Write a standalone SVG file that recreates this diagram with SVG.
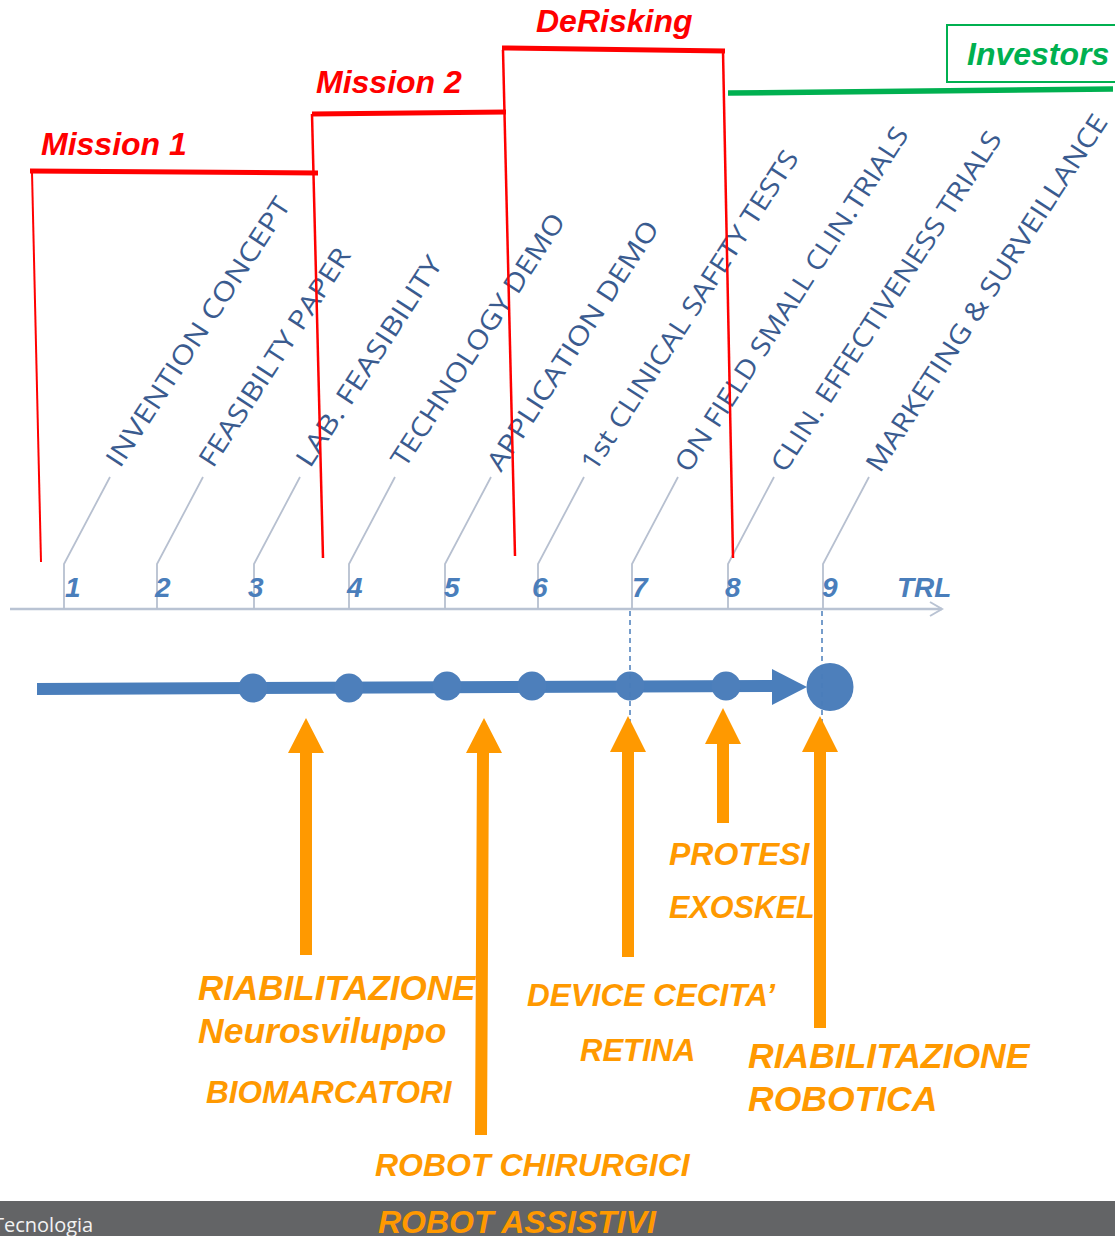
<svg xmlns="http://www.w3.org/2000/svg" width="1115" height="1236" viewBox="0 0 1115 1236">
<style>
.stage{font-family:"Open Sans","Noto Sans",sans-serif;font-size:26.5px;fill:#3a5b8f}
.tick{fill:none;stroke:#b7c0d0;stroke-width:1.8}
.num{font-family:"Liberation Sans",Arial,sans-serif;font-weight:bold;font-style:italic;font-size:28px;fill:#4a7ebb}
.red{font-family:"Liberation Sans",Arial,sans-serif;font-weight:bold;font-style:italic;font-size:32px;fill:#ff0000}
.grn{font-family:"Liberation Sans",Arial,sans-serif;font-weight:bold;font-style:italic;font-size:32px;fill:#00b050}
.org{font-family:"Liberation Sans",Arial,sans-serif;font-weight:bold;font-style:italic;fill:#ff9900}
.rline{stroke:#ff0000;fill:none}
.dot{fill:#4d7fbb}
.oarrow{fill:#ff9900}
.dash{stroke:#4a7ebb;stroke-width:1.5;stroke-dasharray:5 4;fill:none}
</style>

<!-- footer bar -->
<rect x="0" y="1201" width="1115" height="35" fill="#636466"/>
<text x="-7" y="1232" font-family="'Open Sans','Noto Sans',sans-serif" font-size="20" fill="#f2f2f2">Tecnologia</text>

<!-- TRL axis -->
<g id="axis">
  <line x1="10" y1="609" x2="942" y2="609" stroke="#b9c3d3" stroke-width="2.5"/>
  <polyline points="930,602 942,609 930,616" fill="none" stroke="#b9c3d3" stroke-width="2"/>
  <text class="num" x="897" y="597">TRL</text>
</g>

<!-- stages -->
<g id="stage1"><polyline class="tick" points="64,609 64,564 110,477"/><text class="num" x="65" y="597">1</text>
  <text class="stage" transform="translate(120,469) rotate(-57)" textLength="315" lengthAdjust="spacingAndGlyphs">INVENTION CONCEPT</text></g>
<g id="stage2"><polyline class="tick" points="157,609 157,564 203,477"/><text class="num" x="155" y="597">2</text>
  <text class="stage" transform="translate(213,469) rotate(-57)" textLength="255" lengthAdjust="spacingAndGlyphs">FEASIBILTY PAPER</text></g>
<g id="stage3"><polyline class="tick" points="254,609 254,564 300,477"/><text class="num" x="248" y="597">3</text>
  <text class="stage" transform="translate(310,469) rotate(-57)" textLength="245" lengthAdjust="spacingAndGlyphs">LAB. FEASIBILITY</text></g>
<g id="stage4"><polyline class="tick" points="349,609 349,564 395,477"/><text class="num" x="347" y="597">4</text>
  <text class="stage" transform="translate(405,469) rotate(-57)" textLength="296" lengthAdjust="spacingAndGlyphs">TECHNOLOGY DEMO</text></g>
<g id="stage5"><polyline class="tick" points="445,609 445,564 491,477"/><text class="num" x="444" y="597">5</text>
  <text class="stage" transform="translate(501,473) rotate(-57)" textLength="292" lengthAdjust="spacingAndGlyphs">APPLICATION DEMO</text></g>
<g id="stage6"><polyline class="tick" points="538,609 538,564 584,477"/><text class="num" x="532" y="597">6</text>
  <text class="stage" transform="translate(595,473) rotate(-57)" textLength="376" lengthAdjust="spacingAndGlyphs">1st CLINICAL SAFETY TESTS</text></g>
<g id="stage7"><polyline class="tick" points="632,609 632,564 678,477"/><text class="num" x="632" y="597">7</text>
  <text class="stage" transform="translate(689,474) rotate(-57)" textLength="405" lengthAdjust="spacingAndGlyphs">ON FIELD SMALL CLIN.TRIALS</text></g>
<g id="stage8"><polyline class="tick" points="728,609 728,564 774,477"/><text class="num" x="725" y="597">8</text>
  <text class="stage" transform="translate(785,474) rotate(-57)" textLength="400" lengthAdjust="spacingAndGlyphs">CLIN. EFFECTIVENESS TRIALS</text></g>
<g id="stage9"><polyline class="tick" points="823,609 823,564 869,477"/><text class="num" x="822" y="597">9</text>
  <text class="stage" transform="translate(880,474) rotate(-57)" textLength="420" lengthAdjust="spacingAndGlyphs">MARKETING &amp; SURVEILLANCE</text></g>

<!-- phases -->
<g id="mission1">
  <line class="rline" x1="30" y1="171" x2="318" y2="173" stroke-width="5"/>
  <line class="rline" x1="32" y1="172" x2="41" y2="562" stroke-width="2"/>
  <text class="red" x="41" y="155">Mission 1</text>
</g>
<g id="mission2">
  <line class="rline" x1="312" y1="114" x2="506" y2="112" stroke-width="5"/>
  <line class="rline" x1="312" y1="114" x2="323" y2="558" stroke-width="2.5"/>
  <text class="red" x="316" y="93">Mission 2</text>
</g>
<g id="derisking">
  <line class="rline" x1="502" y1="48" x2="725" y2="51" stroke-width="5"/>
  <line class="rline" x1="503" y1="50" x2="515" y2="556" stroke-width="2.5"/>
  <line class="rline" x1="723" y1="51" x2="733" y2="558" stroke-width="2.5"/>
  <text class="red" x="536" y="32">DeRisking</text>
</g>
<g id="investors">
  <rect x="947" y="25" width="175" height="57" fill="none" stroke="#00b050" stroke-width="2"/>
  <line x1="728" y1="93" x2="1113" y2="89" stroke="#00b050" stroke-width="5.5"/>
  <text class="grn" x="967" y="65">Investors</text>
</g>

<!-- timeline -->
<g id="timeline">
  <line x1="37" y1="689" x2="776" y2="686" stroke="#4a7ebb" stroke-width="12"/>
  <polygon points="772,669 807,687 772,705" fill="#4a7ebb"/>
  <circle class="dot" cx="253" cy="688" r="14.5"/>
  <circle class="dot" cx="349" cy="688" r="14.5"/>
  <circle class="dot" cx="447" cy="686" r="14.5"/>
  <circle class="dot" cx="532" cy="686" r="14.5"/>
  <circle class="dot" cx="630" cy="686" r="14.5"/>
  <circle class="dot" cx="726" cy="686" r="14.5"/>
  <ellipse class="dot" cx="830" cy="687" rx="23.5" ry="24"/>
</g>

<!-- dashed markers -->
<g id="dashes">
  <line class="dash" x1="630" y1="611" x2="630" y2="727"/>
  <line class="dash" x1="822" y1="611" x2="822" y2="722"/>
</g>

<!-- orange labels -->
<g id="labels">
  <text class="org" x="198" y="1000" font-size="35">RIABILITAZIONE</text>
  <text class="org" x="198" y="1043" font-size="35.5">Neurosviluppo</text>
  <text class="org" x="206" y="1103" font-size="31.5">BIOMARCATORI</text>
  <text class="org" x="375" y="1176" font-size="32">ROBOT CHIRURGICI</text>
  <text class="org" x="378" y="1233" font-size="32">ROBOT ASSISTIVI</text>
  <text class="org" x="527" y="1006" font-size="31.5">DEVICE CECITA’</text>
  <text class="org" x="580" y="1061" font-size="31">RETINA</text>
  <text class="org" x="669" y="865" font-size="32">PROTESI</text>
  <text class="org" x="669" y="918" font-size="30.5">EXOSKEL</text>
  <text class="org" x="748" y="1068" font-size="35.5">RIABILITAZIONE</text>
  <text class="org" x="748" y="1111" font-size="35.5">ROBOTICA</text>
</g>

<!-- orange arrows -->
<g id="arrows">
  <polygon class="oarrow" points="306,718 324,753 312,753 312,955 300,955 300,753 288,753"/>
  <polygon class="oarrow" points="484,718 502,753 489,753 487,1135 475,1135 477,753 466,753"/>
  <polygon class="oarrow" points="628,716 646,752 634,752 634,957 622,957 622,752 610,752"/>
  <polygon class="oarrow" points="723,708 741,744 729,744 729,823 717,823 717,744 705,744"/>
  <polygon class="oarrow" points="820,716 838,752 826,752 826,1028 814,1028 814,752 802,752"/>
</g>
</svg>
